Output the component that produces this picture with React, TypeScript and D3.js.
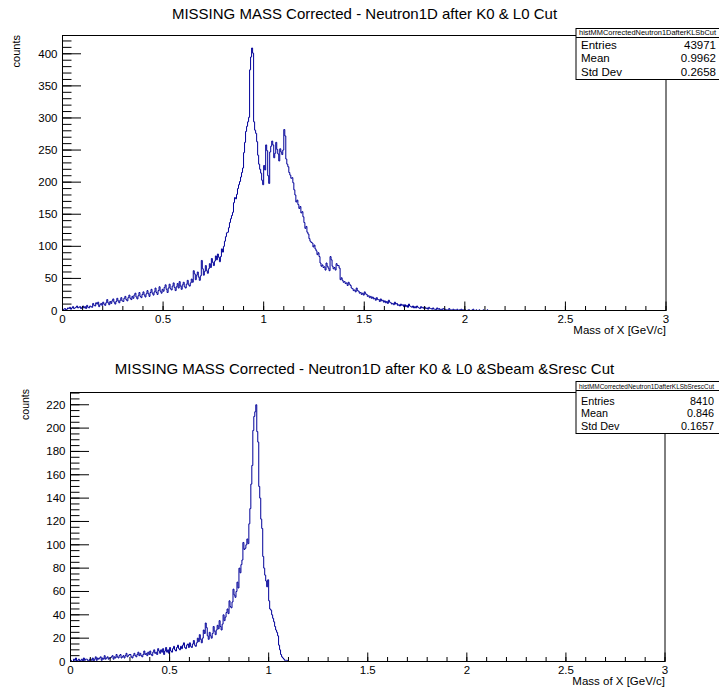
import React from 'react';
import * as d3 from 'd3';

// ---------- data ----------
const xTickLabels = ['0', '0.5', '1', '1.5', '2', '2.5', '3'];
const topYTickLabels = ['0', '50', '100', '150', '200', '250', '300', '350', '400'];
const bottomYTickLabels = ['0', '20', '40', '60', '80', '100', '120', '140', '160', '180', '200', '220'];

const topTitle = 'MISSING MASS Corrected - Neutron1D after K0 & L0 Cut';
const bottomTitle = 'MISSING MASS Corrected - Neutron1D after K0 & L0 &Sbeam &Sresc Cut';
const topHistName = 'histMMCorrectedNeutron1DafterKLSbCut';
const bottomHistName = 'histMMCorrectedNeutron1DafterKLSbSrescCut';
const statLabels = ['Entries', 'Mean', 'Std Dev'];
const topStatValues = ['43971', '0.9962', '0.2658'];
const bottomStatValues = ['8410', '0.846', '0.1657'];

const BIN_WIDTH = 0.005; // GeV/c, bins start at 0

// counts per bin, top histogram (0 .. 2.15)
const topCounts = [
  // 0.0 - 0.1
  0, 2, 3, 1, 2, 4, 3, 5, 2, 4, 6, 3, 4, 5, 7, 4, 5, 6, 3, 5,
  // 0.1 - 0.2
  7, 4, 6, 3, 8, 5, 4, 7, 6, 5, 11, 8, 7, 12, 10, 13, 6, 9, 11, 8,
  // 0.2 - 0.3
  13, 10, 8, 12, 17, 12, 9, 14, 11, 15, 18, 13, 10, 14, 19, 15, 12, 16, 20, 15,
  // 0.3 - 0.4
  14, 19, 22, 17, 15, 20, 24, 19, 17, 22, 19, 24, 27, 21, 18, 23, 28, 22, 20, 25,
  // 0.4 - 0.5
  29, 24, 21, 26, 31, 26, 22, 28, 33, 27, 24, 29, 35, 28, 25, 31, 37, 30, 27, 33,
  // 0.5 - 0.6
  30, 36, 40, 33, 28, 35, 41, 34, 32, 38, 43, 36, 31, 37, 42, 35, 45, 38, 33, 40,
  // 0.6 - 0.7
  44, 37, 35, 41, 47, 40, 38, 43, 49, 44, 62, 57, 48, 55, 60, 52, 47, 54, 78, 65,
  // 0.7 - 0.8
  55, 61, 70, 62, 58, 65, 73, 67, 81, 75, 70, 77, 85, 79, 88, 83, 76, 84, 96, 91,
  // 0.8 - 0.9
  100, 108, 115, 121, 122, 129, 137, 143, 148, 153, 168, 176, 174, 181, 190, 196, 201, 208, 215, 222,
  // 0.9 - 1.0
  246, 262, 279, 287, 294, 301, 375, 395, 409, 401, 294, 281, 276, 263, 242, 228, 220, 214, 203, 196,
  // 1.0 - 1.1
  226, 219, 258, 249, 210, 198, 247, 256, 264, 258, 238, 245, 262, 251, 244, 233, 252, 247, 243, 250,
  // 1.1 - 1.2
  282, 272, 236, 228, 224, 215, 211, 206, 207, 199, 188, 180, 169, 172, 165, 159, 162, 152, 154, 146,
  // 1.2 - 1.3
  137, 128, 131, 122, 119, 112, 108, 106, 105, 99, 102, 96, 93, 87, 90, 84, 74, 69, 71, 67,
  // 1.3 - 1.4
  68, 63, 74, 69, 66, 62, 84, 79, 69, 65, 67, 63, 73, 70, 70, 66, 48, 51, 47, 44,
  // 1.4 - 1.5
  45, 42, 43, 39, 44, 41, 39, 35, 34, 31, 32, 29, 35, 31, 30, 27, 28, 25, 27, 24,
  // 1.5 - 1.6
  29, 26, 25, 22, 23, 20, 22, 19, 21, 18, 19, 16, 20, 17, 17, 14, 18, 15, 16, 13,
  // 1.6 - 1.7
  15, 12, 14, 11, 16, 13, 12, 10, 11, 9, 13, 10, 11, 8, 9, 7, 10, 8, 9, 6,
  // 1.7 - 1.8
  9, 6, 8, 5, 10, 7, 6, 5, 7, 4, 6, 4, 7, 5, 4, 3, 6, 4, 5, 3,
  // 1.8 - 1.9
  5, 3, 4, 2, 5, 3, 3, 2, 4, 2, 2, 1, 4, 2, 3, 1, 2, 1, 3, 2,
  // 1.9 - 2.0
  2, 1, 1, 0, 3, 1, 1, 0, 2, 1, 1, 0, 2, 0, 1, 1, 2, 1, 1, 0,
  // 2.0 - 2.15
  1, 0, 0, 1, 1, 0, 0, 1, 2, 0, 0, 1, 0, 0, 1, 0, 0, 0, 1, 0,
  0, 0, 1, 0, 0, 0, 0, 0, 0, 0,
];

// counts per bin, bottom histogram (0 .. 1.15)
const bottomCounts = [
  // 0.0 - 0.1
  1, 0, 0, 2, 1, 3, 0, 1, 2, 0, 1, 2, 0, 3, 1, 2, 2, 1, 0, 2,
  // 0.1 - 0.2
  2, 1, 3, 0, 2, 4, 1, 3, 2, 3, 4, 1, 3, 2, 5, 2, 3, 4, 2, 3,
  // 0.2 - 0.3
  3, 4, 5, 2, 4, 3, 6, 4, 3, 5, 6, 3, 4, 5, 3, 5, 7, 4, 5, 6,
  // 0.3 - 0.4
  6, 4, 3, 5, 7, 5, 4, 6, 8, 5, 7, 5, 4, 6, 9, 6, 7, 5, 8, 6,
  // 0.4 - 0.5
  9, 6, 5, 8, 10, 7, 8, 6, 11, 9, 7, 10, 8, 11, 6, 9, 12, 8, 10, 7,
  // 0.5 - 0.6
  12, 9, 8, 11, 13, 10, 9, 12, 14, 11, 10, 13, 11, 14, 16, 12, 11, 14, 15, 12,
  // 0.6 - 0.7
  16, 13, 12, 15, 18, 14, 13, 16, 20, 17, 23, 19, 16, 20, 27, 24, 33, 29, 22, 19,
  // 0.7 - 0.8
  25, 22, 20, 24, 30, 26, 23, 27, 31, 28, 35, 30, 27, 32, 40, 35, 38, 42, 45, 41,
  // 0.8 - 0.9
  52, 47, 46, 51, 62, 57, 55, 60, 68, 63, 80, 76, 83, 87, 102, 96, 97, 100, 105, 101,
  // 0.9 - 1.0
  118, 131, 152, 168, 198, 210, 214, 220, 197, 188, 150, 140, 122, 114, 90, 80, 74, 69, 64, 70,
  // 1.0 - 1.1
  52, 45, 44, 40, 37, 34, 30, 27, 25, 22, 14, 10, 6, 4, 3, 2, 1, 1, 1, 0,
  // 1.1 - 1.15
  0, 0, 0, 0, 0, 0, 0, 0, 0, 0,
];

// ---------- layout ----------
const FONT = '"Liberation Sans", Arial, Helvetica, sans-serif';
const LINE = '#000099';

type PanelCfg = {
  counts: number[];
  yLabels: string[];
  yMinorStep: number;
  yMax: number;
  left: number; right: number; top: number; bottom: number;
  title: string; titleY: number;
  countsX: number; countsY: number; countsSize: number;
  histName: string; statValues: string[];
  statTop: number; statSep: number; statBottom: number; headerY: number;
  rowYs: number[]; valueRight: number; statSize: number;
};

function Panel({ cfg }: { cfg: PanelCfg }) {
  const x = d3.scaleLinear().domain([0, 3]).range([cfg.left, cfg.right]);
  const y = d3.scaleLinear().domain([0, cfg.yMax]).range([cfg.bottom, cfg.top]);
  const nBins = Math.round(3 / BIN_WIDTH);
  const pts: [number, number][] = [];
  for (let i = 0; i < nBins; i++) pts.push([i * BIN_WIDTH, i < cfg.counts.length ? cfg.counts[i] : 0]);
  pts.push([3, 0]);
  const path = d3.line<[number, number]>()
    .x(d => x(d[0]))
    .y(d => y(d[1]))
    .curve(d3.curveStepAfter)(pts) || '';

  const xMajor = xTickLabels.map(Number);
  const xMinor = d3.range(0, 3.0001, 0.1);
  const yMajor = cfg.yLabels.map(Number);
  const yMinor = d3.range(0, cfg.yMax, cfg.yMinorStep);
  const statW = 200;

  return (
    <g>
      <text x={364.5} y={cfg.titleY} textAnchor="middle" fontSize={15} fontFamily={FONT}>{cfg.title}</text>
      {/* histogram */}
      <path d={path} fill="none" stroke={LINE} strokeWidth={1} />
      {/* frame */}
      <rect x={cfg.left} y={cfg.top} width={cfg.right - cfg.left} height={cfg.bottom - cfg.top} fill="none" stroke="#000" strokeWidth={1} />
      {/* x ticks */}
      {xMinor.map((v, i) => (
        <line key={'xm' + i} x1={x(v)} x2={x(v)} y1={cfg.bottom} y2={cfg.bottom - 4.5} stroke="#000" strokeWidth={1} />
      ))}
      {xMajor.map((v, i) => (
        <line key={'xM' + i} x1={x(v)} x2={x(v)} y1={cfg.bottom} y2={cfg.bottom - 9} stroke="#000" strokeWidth={1} />
      ))}
      {xTickLabels.map((t, i) => (
        <text key={'xl' + i} x={x(xMajor[i])} y={cfg.bottom + 12.5} textAnchor="middle" fontSize={11.5} fontFamily={FONT}>{t}</text>
      ))}
      <text x={cfg.right} y={cfg.bottom + 23.5} textAnchor="end" fontSize={11.5} fontFamily={FONT}>Mass of X [GeV/c]</text>
      {/* y ticks */}
      {yMinor.map((v, i) => (
        <line key={'ym' + i} x1={cfg.left} x2={cfg.left + 9} y1={y(v)} y2={y(v)} stroke="#000" strokeWidth={1} />
      ))}
      {yMajor.map((v, i) => (
        <line key={'yM' + i} x1={cfg.left} x2={cfg.left + 18.5} y1={y(v)} y2={y(v)} stroke="#000" strokeWidth={1} />
      ))}
      {cfg.yLabels.map((t, i) => (
        <text key={'yl' + i} x={cfg.left - 5} y={y(yMajor[i]) + 4} textAnchor="end" fontSize={11.5} fontFamily={FONT}>{t}</text>
      ))}
      <text transform={`translate(${cfg.countsX},${cfg.countsY}) rotate(-90)`} textAnchor="end" fontSize={cfg.countsSize} fontFamily={FONT}>counts</text>
      {/* stats box */}
      <rect x={576} y={cfg.statTop} width={statW} height={cfg.statBottom - cfg.statTop} fill="#fff" stroke="#000" strokeWidth={1} />
      <line x1={576} x2={576 + statW} y1={cfg.statSep} y2={cfg.statSep} stroke="#000" strokeWidth={1} />
      <text x={579} y={cfg.headerY + 2.5} fontSize={7} fontFamily={FONT} textLength={cfg.valueRight - 579} lengthAdjust="spacingAndGlyphs">{cfg.histName}</text>
      {statLabels.map((s, i) => (
        <g key={'st' + i}>
          <text x={581} y={cfg.rowYs[i] + cfg.statSize * 0.36} fontSize={cfg.statSize} fontFamily={FONT}>{s}</text>
          <text x={cfg.valueRight} y={cfg.rowYs[i] + cfg.statSize * 0.36} textAnchor="end" fontSize={cfg.statSize} fontFamily={FONT}>{cfg.statValues[i]}</text>
        </g>
      ))}
    </g>
  );
}

const topCfg: PanelCfg = {
  counts: topCounts, yLabels: topYTickLabels, yMinorStep: 10, yMax: 428.5,
  left: 62.5, right: 666, top: 35.5, bottom: 310.5,
  title: topTitle, titleY: 18.5,
  countsX: 20, countsY: 35, countsSize: 11,
  histName: topHistName, statValues: topStatValues,
  statTop: 28.5, statSep: 37.5, statBottom: 79.5, headerY: 32.5,
  rowYs: [45, 58.3, 71.5], valueRight: 716, statSize: 11.5,
};

const bottomCfg: PanelCfg = {
  counts: bottomCounts, yLabels: bottomYTickLabels, yMinorStep: 5, yMax: 230.5,
  left: 70.5, right: 665, top: 392.5, bottom: 661.5,
  title: bottomTitle, titleY: 374,
  countsX: 29, countsY: 389, countsSize: 10.5,
  histName: bottomHistName, statValues: bottomStatValues,
  statTop: 381.5, statSep: 390.5, statBottom: 433.5, headerY: 386,
  rowYs: [401, 413.5, 426], valueRight: 714, statSize: 10.8,
};

export default function App() {
  return (
    <svg width={719} height={687} style={{ position: 'absolute', left: 0, top: 0, background: '#fff' }}>
      <rect x={0} y={0} width={719} height={687} fill="#fff" />
      <Panel cfg={topCfg} />
      <Panel cfg={bottomCfg} />
    </svg>
  );
}
